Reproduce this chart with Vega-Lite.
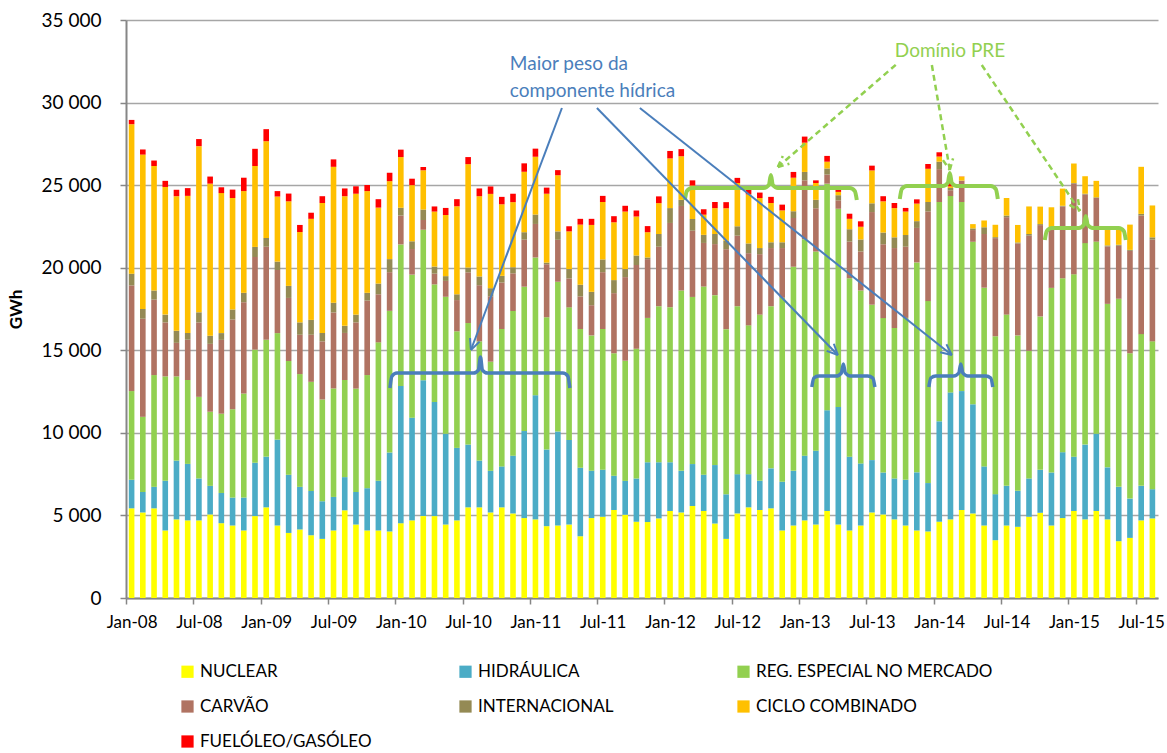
{
  "$schema": "https://vega.github.io/schema/vega-lite/v6.json",
  "width": 1032,
  "height": 578,
  "autosize": {"type": "none"},
  "padding": {"left": 126, "top": 20, "right": 9, "bottom": 155},
  "background": "white",
  "config": {
    "font": "Lato",
    "view": {"stroke": null},
    "axis": {"labelFont": "Lato", "titleFont": "Lato"},
    "legend": {"labelFont": "Lato"},
    "text": {"font": "Lato"}
  },
  "datasets": {
    "fontes": [
      {"cod": "NUC", "fonte": "NUCLEAR", "ordem": 1},
      {"cod": "HID", "fonte": "HIDRÁULICA", "ordem": 2},
      {"cod": "REG", "fonte": "REG. ESPECIAL NO MERCADO", "ordem": 3},
      {"cod": "CAR", "fonte": "CARVÃO", "ordem": 4},
      {"cod": "INT", "fonte": "INTERNACIONAL", "ordem": 5},
      {"cod": "CC", "fonte": "CICLO COMBINADO", "ordem": 6},
      {"cod": "FUEL", "fonte": "FUELÓLEO/GASÓLEO", "ordem": 7}
    ],
    "energia": [
      {"mes": "Jan-08", "NUC": 5430, "HID": 1730, "REG": 5370, "CAR": 6400, "INT": 710, "CC": 9050, "FUEL": 260},
      {"mes": "Fev-08", "NUC": 5180, "HID": 1240, "REG": 4550, "CAR": 5940, "INT": 590, "CC": 9350, "FUEL": 310},
      {"mes": "Mar-08", "NUC": 5430, "HID": 1300, "REG": 6770, "CAR": 4570, "INT": 550, "CC": 7540, "FUEL": 330},
      {"mes": "Abr-08", "NUC": 4090, "HID": 3010, "REG": 6320, "CAR": 3270, "INT": 470, "CC": 7730, "FUEL": 370},
      {"mes": "Mai-08", "NUC": 4760, "HID": 3560, "REG": 5100, "CAR": 2030, "INT": 730, "CC": 8150, "FUEL": 390},
      {"mes": "Jun-08", "NUC": 4700, "HID": 3420, "REG": 5080, "CAR": 2440, "INT": 410, "CC": 8300, "FUEL": 470},
      {"mes": "Jul-08", "NUC": 4700, "HID": 2540, "REG": 4940, "CAR": 4510, "INT": 610, "CC": 10060, "FUEL": 430},
      {"mes": "Ago-08", "NUC": 5060, "HID": 1730, "REG": 4490, "CAR": 4110, "INT": 490, "CC": 9210, "FUEL": 430},
      {"mes": "Set-08", "NUC": 4530, "HID": 1830, "REG": 4800, "CAR": 4470, "INT": 410, "CC": 8480, "FUEL": 350},
      {"mes": "Out-08", "NUC": 4390, "HID": 1690, "REG": 5350, "CAR": 5430, "INT": 610, "CC": 6750, "FUEL": 510},
      {"mes": "Nov-08", "NUC": 4090, "HID": 1990, "REG": 6300, "CAR": 5530, "INT": 570, "CC": 6160, "FUEL": 810},
      {"mes": "Dez-08", "NUC": 4960, "HID": 3230, "REG": 6850, "CAR": 5610, "INT": 610, "CC": 4900, "FUEL": 1040},
      {"mes": "Jan-09", "NUC": 5490, "HID": 3070, "REG": 7080, "CAR": 5630, "INT": 530, "CC": 5860, "FUEL": 730},
      {"mes": "Fev-09", "NUC": 4390, "HID": 5200, "REG": 6450, "CAR": 3820, "INT": 510, "CC": 3940, "FUEL": 330},
      {"mes": "Mar-09", "NUC": 3940, "HID": 3520, "REG": 6890, "CAR": 3820, "INT": 730, "CC": 5120, "FUEL": 470},
      {"mes": "Abr-09", "NUC": 4150, "HID": 2580, "REG": 6830, "CAR": 2380, "INT": 750, "CC": 5470, "FUEL": 430},
      {"mes": "Mai-09", "NUC": 3800, "HID": 2680, "REG": 6610, "CAR": 2850, "INT": 900, "CC": 6120, "FUEL": 370},
      {"mes": "Jun-09", "NUC": 3580, "HID": 2280, "REG": 6160, "CAR": 3520, "INT": 510, "CC": 7870, "FUEL": 410},
      {"mes": "Jul-09", "NUC": 4090, "HID": 2030, "REG": 6570, "CAR": 4600, "INT": 590, "CC": 8230, "FUEL": 450},
      {"mes": "Ago-09", "NUC": 5310, "HID": 2010, "REG": 5880, "CAR": 2850, "INT": 430, "CC": 7850, "FUEL": 470},
      {"mes": "Set-09", "NUC": 4450, "HID": 1970, "REG": 6260, "CAR": 4010, "INT": 470, "CC": 7320, "FUEL": 450},
      {"mes": "Out-09", "NUC": 4090, "HID": 2560, "REG": 6850, "CAR": 4510, "INT": 470, "CC": 6160, "FUEL": 370},
      {"mes": "Nov-09", "NUC": 4090, "HID": 3010, "REG": 8380, "CAR": 2910, "INT": 650, "CC": 4600, "FUEL": 510},
      {"mes": "Dez-09", "NUC": 4030, "HID": 4780, "REG": 8580, "CAR": 2340, "INT": 790, "CC": 4720, "FUEL": 510},
      {"mes": "Jan-10", "NUC": 4530, "HID": 8300, "REG": 8580, "CAR": 1750, "INT": 470, "CC": 3070, "FUEL": 450},
      {"mes": "Fev-10", "NUC": 4700, "HID": 6220, "REG": 8660, "CAR": 1550, "INT": 470, "CC": 3400, "FUEL": 390},
      {"mes": "Mar-10", "NUC": 4960, "HID": 8230, "REG": 9110, "CAR": 590, "INT": 630, "CC": 2380, "FUEL": 200},
      {"mes": "Abr-10", "NUC": 4960, "HID": 6910, "REG": 7120, "CAR": 650, "INT": 430, "CC": 3330, "FUEL": 310},
      {"mes": "Mai-10", "NUC": 4450, "HID": 5490, "REG": 8300, "CAR": 960, "INT": 290, "CC": 3700, "FUEL": 430},
      {"mes": "Jun-10", "NUC": 4700, "HID": 4390, "REG": 7060, "CAR": 1890, "INT": 350, "CC": 5330, "FUEL": 430},
      {"mes": "Jul-10", "NUC": 5490, "HID": 3800, "REG": 7360, "CAR": 3070, "INT": 290, "CC": 6260, "FUEL": 430},
      {"mes": "Ago-10", "NUC": 5490, "HID": 2830, "REG": 7220, "CAR": 3400, "INT": 530, "CC": 4860, "FUEL": 470},
      {"mes": "Set-10", "NUC": 5180, "HID": 2520, "REG": 6610, "CAR": 3960, "INT": 490, "CC": 5710, "FUEL": 450},
      {"mes": "Out-10", "NUC": 5490, "HID": 2480, "REG": 8320, "CAR": 2810, "INT": 410, "CC": 4330, "FUEL": 450},
      {"mes": "Nov-10", "NUC": 5120, "HID": 3500, "REG": 8760, "CAR": 2280, "INT": 370, "CC": 3940, "FUEL": 510},
      {"mes": "Dez-10", "NUC": 4840, "HID": 5270, "REG": 8740, "CAR": 2850, "INT": 450, "CC": 3660, "FUEL": 510},
      {"mes": "Jan-11", "NUC": 4760, "HID": 7520, "REG": 8340, "CAR": 2030, "INT": 570, "CC": 3500, "FUEL": 490},
      {"mes": "Fev-11", "NUC": 4350, "HID": 4640, "REG": 8010, "CAR": 3210, "INT": 100, "CC": 4170, "FUEL": 370},
      {"mes": "Mar-11", "NUC": 4390, "HID": 5690, "REG": 9070, "CAR": 2540, "INT": 510, "CC": 3400, "FUEL": 310},
      {"mes": "Abr-11", "NUC": 4450, "HID": 5120, "REG": 8030, "CAR": 1750, "INT": 570, "CC": 2280, "FUEL": 310},
      {"mes": "Mai-11", "NUC": 3740, "HID": 4150, "REG": 8400, "CAR": 1970, "INT": 710, "CC": 3640, "FUEL": 350},
      {"mes": "Jun-11", "NUC": 4840, "HID": 2870, "REG": 8190, "CAR": 1830, "INT": 810, "CC": 4050, "FUEL": 370},
      {"mes": "Jul-11", "NUC": 4920, "HID": 2850, "REG": 8520, "CAR": 3440, "INT": 770, "CC": 3480, "FUEL": 370},
      {"mes": "Ago-11", "NUC": 5330, "HID": 2070, "REG": 7420, "CAR": 3640, "INT": 790, "CC": 3500, "FUEL": 370},
      {"mes": "Set-11", "NUC": 5040, "HID": 2050, "REG": 7280, "CAR": 5060, "INT": 490, "CC": 3480, "FUEL": 350},
      {"mes": "Out-11", "NUC": 4620, "HID": 2620, "REG": 7850, "CAR": 5080, "INT": 570, "CC": 2360, "FUEL": 370},
      {"mes": "Nov-11", "NUC": 4600, "HID": 3620, "REG": 8740, "CAR": 3560, "INT": 100, "CC": 1530, "FUEL": 370},
      {"mes": "Dez-11", "NUC": 4820, "HID": 3400, "REG": 9450, "CAR": 3600, "INT": 770, "CC": 1870, "FUEL": 410},
      {"mes": "Jan-12", "NUC": 5270, "HID": 2950, "REG": 9390, "CAR": 5100, "INT": 900, "CC": 3010, "FUEL": 450},
      {"mes": "Fev-12", "NUC": 5180, "HID": 2520, "REG": 10920, "CAR": 5120, "INT": 370, "CC": 2640, "FUEL": 430},
      {"mes": "Mar-12", "NUC": 5570, "HID": 2540, "REG": 10120, "CAR": 4010, "INT": 710, "CC": 2030, "FUEL": 310},
      {"mes": "Abr-12", "NUC": 5270, "HID": 2200, "REG": 11390, "CAR": 2640, "INT": 490, "CC": 1220, "FUEL": 330},
      {"mes": "Mai-12", "NUC": 4510, "HID": 3540, "REG": 10290, "CAR": 3090, "INT": 610, "CC": 1570, "FUEL": 370},
      {"mes": "Jun-12", "NUC": 3580, "HID": 2700, "REG": 10000, "CAR": 4840, "INT": 510, "CC": 1970, "FUEL": 370},
      {"mes": "Jul-12", "NUC": 5120, "HID": 2380, "REG": 10170, "CAR": 4270, "INT": 570, "CC": 2620, "FUEL": 310},
      {"mes": "Ago-12", "NUC": 5490, "HID": 2010, "REG": 9010, "CAR": 4370, "INT": 590, "CC": 2970, "FUEL": 310},
      {"mes": "Set-12", "NUC": 5330, "HID": 1770, "REG": 10060, "CAR": 3660, "INT": 370, "CC": 3030, "FUEL": 330},
      {"mes": "Out-12", "NUC": 5430, "HID": 2420, "REG": 9820, "CAR": 3520, "INT": 350, "CC": 2380, "FUEL": 370},
      {"mes": "Nov-12", "NUC": 4090, "HID": 2950, "REG": 11140, "CAR": 3010, "INT": 350, "CC": 1930, "FUEL": 350},
      {"mes": "Dez-12", "NUC": 4390, "HID": 3310, "REG": 12360, "CAR": 2950, "INT": 410, "CC": 2030, "FUEL": 350},
      {"mes": "Jan-13", "NUC": 4700, "HID": 3920, "REG": 13110, "CAR": 3560, "INT": 510, "CC": 1770, "FUEL": 370},
      {"mes": "Fev-13", "NUC": 4450, "HID": 4470, "REG": 12060, "CAR": 2620, "INT": 510, "CC": 1020, "FUEL": 160},
      {"mes": "Mar-13", "NUC": 5270, "HID": 6100, "REG": 13720, "CAR": 550, "INT": 370, "CC": 410, "FUEL": 350},
      {"mes": "Abr-13", "NUC": 4450, "HID": 7120, "REG": 12000, "CAR": 510, "INT": 310, "CC": 200, "FUEL": 240},
      {"mes": "Mai-13", "NUC": 4090, "HID": 4470, "REG": 10800, "CAR": 2220, "INT": 750, "CC": 630, "FUEL": 310},
      {"mes": "Jun-13", "NUC": 4390, "HID": 3760, "REG": 10470, "CAR": 2360, "INT": 730, "CC": 770, "FUEL": 330},
      {"mes": "Jul-13", "NUC": 5180, "HID": 3170, "REG": 9410, "CAR": 5610, "INT": 530, "CC": 1990, "FUEL": 290},
      {"mes": "Ago-13", "NUC": 5060, "HID": 2540, "REG": 9350, "CAR": 4470, "INT": 710, "CC": 1890, "FUEL": 310},
      {"mes": "Set-13", "NUC": 4760, "HID": 2480, "REG": 9110, "CAR": 4840, "INT": 650, "CC": 1770, "FUEL": 310},
      {"mes": "Out-13", "NUC": 4390, "HID": 2770, "REG": 9800, "CAR": 4310, "INT": 710, "CC": 1420, "FUEL": 220},
      {"mes": "Nov-13", "NUC": 4090, "HID": 3520, "REG": 12710, "CAR": 2090, "INT": 410, "CC": 1060, "FUEL": 260},
      {"mes": "Dez-13", "NUC": 4030, "HID": 2930, "REG": 11020, "CAR": 5430, "INT": 570, "CC": 2010, "FUEL": 290},
      {"mes": "Jan-14", "NUC": 4620, "HID": 6080, "REG": 13280, "CAR": 1990, "INT": 450, "CC": 310, "FUEL": 260},
      {"mes": "Fev-14", "NUC": 4760, "HID": 7690, "REG": 11890, "CAR": 350, "INT": 140, "CC": 100, "FUEL": 200},
      {"mes": "Mar-14", "NUC": 5330, "HID": 7200, "REG": 11450, "CAR": 1280, "INT": 20, "CC": 240, "FUEL": 10},
      {"mes": "Abr-14", "NUC": 5120, "HID": 6610, "REG": 9840, "CAR": 710, "INT": 100, "CC": 260, "FUEL": 0},
      {"mes": "Mai-14", "NUC": 4390, "HID": 3580, "REG": 10820, "CAR": 3250, "INT": 410, "CC": 410, "FUEL": 0},
      {"mes": "Jun-14", "NUC": 3500, "HID": 2790, "REG": 9560, "CAR": 5940, "INT": 60, "CC": 750, "FUEL": 0},
      {"mes": "Jul-14", "NUC": 4390, "HID": 2400, "REG": 10370, "CAR": 5900, "INT": 100, "CC": 1060, "FUEL": 0},
      {"mes": "Ago-14", "NUC": 4310, "HID": 2180, "REG": 9410, "CAR": 5570, "INT": 60, "CC": 1060, "FUEL": 0},
      {"mes": "Set-14", "NUC": 4920, "HID": 2320, "REG": 7730, "CAR": 6970, "INT": 100, "CC": 1670, "FUEL": 0},
      {"mes": "Out-14", "NUC": 5160, "HID": 2600, "REG": 9290, "CAR": 5530, "INT": 60, "CC": 1060, "FUEL": 0},
      {"mes": "Nov-14", "NUC": 4390, "HID": 3210, "REG": 11180, "CAR": 3560, "INT": 60, "CC": 1260, "FUEL": 0},
      {"mes": "Dez-14", "NUC": 4840, "HID": 3990, "REG": 10530, "CAR": 4350, "INT": 40, "CC": 1040, "FUEL": 0},
      {"mes": "Jan-15", "NUC": 5270, "HID": 3290, "REG": 11040, "CAR": 5490, "INT": 40, "CC": 1180, "FUEL": 0},
      {"mes": "Fev-15", "NUC": 4760, "HID": 4530, "REG": 12200, "CAR": 2950, "INT": 40, "CC": 1060, "FUEL": 0},
      {"mes": "Mar-15", "NUC": 5270, "HID": 4680, "REG": 11630, "CAR": 2640, "INT": 40, "CC": 1000, "FUEL": 0},
      {"mes": "Abr-15", "NUC": 4760, "HID": 3150, "REG": 9900, "CAR": 3480, "INT": 60, "CC": 1000, "FUEL": 0},
      {"mes": "Mai-15", "NUC": 3440, "HID": 3290, "REG": 11390, "CAR": 3210, "INT": 60, "CC": 960, "FUEL": 0},
      {"mes": "Jun-15", "NUC": 3640, "HID": 2380, "REG": 8800, "CAR": 6200, "INT": 60, "CC": 1530, "FUEL": 0},
      {"mes": "Jul-15", "NUC": 4700, "HID": 2090, "REG": 9190, "CAR": 7180, "INT": 100, "CC": 2850, "FUEL": 0},
      {"mes": "Ago-15", "NUC": 4820, "HID": 1770, "REG": 8950, "CAR": 6160, "INT": 140, "CC": 1930, "FUEL": 0}
    ],
    "chaves_azuis": [
      {"id": "b1", "pos": 23.53, "GWh": 12716}, {"id": "b1", "pos": 23.71, "GWh": 13442}, {"id": "b1", "pos": 24.15, "GWh": 13624},
      {"id": "b1", "pos": 30.97, "GWh": 13624}, {"id": "b1", "pos": 31.42, "GWh": 13805}, {"id": "b1", "pos": 31.6, "GWh": 14593},
      {"id": "b1", "pos": 31.77, "GWh": 13805}, {"id": "b1", "pos": 32.22, "GWh": 13624}, {"id": "b1", "pos": 38.95, "GWh": 13624},
      {"id": "b1", "pos": 39.39, "GWh": 13442}, {"id": "b1", "pos": 39.57, "GWh": 12716},
      {"id": "b2", "pos": 61.14, "GWh": 12776}, {"id": "b2", "pos": 61.32, "GWh": 13321}, {"id": "b2", "pos": 61.76, "GWh": 13442},
      {"id": "b2", "pos": 63.32, "GWh": 13442}, {"id": "b2", "pos": 63.77, "GWh": 13624}, {"id": "b2", "pos": 63.95, "GWh": 14169},
      {"id": "b2", "pos": 64.13, "GWh": 13624}, {"id": "b2", "pos": 64.57, "GWh": 13442}, {"id": "b2", "pos": 66.13, "GWh": 13442},
      {"id": "b2", "pos": 66.58, "GWh": 13321}, {"id": "b2", "pos": 66.76, "GWh": 12776},
      {"id": "b3", "pos": 71.57, "GWh": 12776}, {"id": "b3", "pos": 71.75, "GWh": 13321}, {"id": "b3", "pos": 72.19, "GWh": 13442},
      {"id": "b3", "pos": 73.8, "GWh": 13442}, {"id": "b3", "pos": 74.24, "GWh": 13624}, {"id": "b3", "pos": 74.42, "GWh": 14169},
      {"id": "b3", "pos": 74.6, "GWh": 13624}, {"id": "b3", "pos": 75.04, "GWh": 13442}, {"id": "b3", "pos": 76.65, "GWh": 13442},
      {"id": "b3", "pos": 77.09, "GWh": 13321}, {"id": "b3", "pos": 77.27, "GWh": 12776}
    ],
    "chaves_verdes": [
      {"id": "g1", "pos": 49.82, "GWh": 24099}, {"id": "g1", "pos": 50.0, "GWh": 24644}, {"id": "g1", "pos": 50.45, "GWh": 24826},
      {"id": "g1", "pos": 56.86, "GWh": 24826}, {"id": "g1", "pos": 57.31, "GWh": 25007}, {"id": "g1", "pos": 57.49, "GWh": 25613},
      {"id": "g1", "pos": 57.66, "GWh": 25007}, {"id": "g1", "pos": 58.11, "GWh": 24826}, {"id": "g1", "pos": 64.53, "GWh": 24826},
      {"id": "g1", "pos": 64.97, "GWh": 24644}, {"id": "g1", "pos": 65.15, "GWh": 24099},
      {"id": "g2", "pos": 68.98, "GWh": 24159}, {"id": "g2", "pos": 69.16, "GWh": 24765}, {"id": "g2", "pos": 69.61, "GWh": 24947},
      {"id": "g2", "pos": 72.82, "GWh": 24947}, {"id": "g2", "pos": 73.26, "GWh": 25128}, {"id": "g2", "pos": 73.44, "GWh": 25734},
      {"id": "g2", "pos": 73.62, "GWh": 25128}, {"id": "g2", "pos": 74.06, "GWh": 24947}, {"id": "g2", "pos": 77.09, "GWh": 24947},
      {"id": "g2", "pos": 77.54, "GWh": 24765}, {"id": "g2", "pos": 77.72, "GWh": 24159},
      {"id": "g3", "pos": 81.91, "GWh": 21677}, {"id": "g3", "pos": 82.09, "GWh": 22222}, {"id": "g3", "pos": 82.53, "GWh": 22404},
      {"id": "g3", "pos": 84.94, "GWh": 22404}, {"id": "g3", "pos": 85.38, "GWh": 22585}, {"id": "g3", "pos": 85.56, "GWh": 23130},
      {"id": "g3", "pos": 85.74, "GWh": 22585}, {"id": "g3", "pos": 86.19, "GWh": 22404}, {"id": "g3", "pos": 88.5, "GWh": 22404},
      {"id": "g3", "pos": 88.95, "GWh": 22222}, {"id": "g3", "pos": 89.13, "GWh": 21677}
    ],
    "setas_azuis": [
      {"id": "s1", "pos": 38.86, "GWh": 29670}, {"id": "s1", "pos": 30.75, "GWh": 15016},
      {"id": "s1a", "pos": 30.75, "GWh": 15016}, {"id": "s1a", "pos": 31.52, "GWh": 15525},
      {"id": "s1b", "pos": 30.75, "GWh": 15016}, {"id": "s1b", "pos": 30.67, "GWh": 15743},
      {"id": "s2", "pos": 41.98, "GWh": 29670}, {"id": "s2", "pos": 63.46, "GWh": 14714},
      {"id": "s2a", "pos": 63.46, "GWh": 14714}, {"id": "s2a", "pos": 63.1, "GWh": 15398},
      {"id": "s2b", "pos": 63.46, "GWh": 14714}, {"id": "s2b", "pos": 62.46, "GWh": 14968},
      {"id": "s3", "pos": 45.81, "GWh": 29670}, {"id": "s3", "pos": 73.62, "GWh": 14714},
      {"id": "s3a", "pos": 73.62, "GWh": 14714}, {"id": "s3a", "pos": 73.14, "GWh": 15362},
      {"id": "s3b", "pos": 73.62, "GWh": 14714}, {"id": "s3b", "pos": 72.58, "GWh": 14883}
    ],
    "setas_verdes": [
      {"id": "v1", "pos": 68.81, "GWh": 32394}, {"id": "v1", "pos": 58.11, "GWh": 26097},
      {"id": "v1a", "pos": 58.11, "GWh": 26097}, {"id": "v1a", "pos": 59.14, "GWh": 26297},
      {"id": "v1b", "pos": 58.11, "GWh": 26097}, {"id": "v1b", "pos": 58.55, "GWh": 26763},
      {"id": "v2", "pos": 71.84, "GWh": 32273}, {"id": "v2", "pos": 73.44, "GWh": 25915},
      {"id": "v2a", "pos": 73.44, "GWh": 25915}, {"id": "v2a", "pos": 73.73, "GWh": 26618},
      {"id": "v2b", "pos": 73.44, "GWh": 25915}, {"id": "v2b", "pos": 72.83, "GWh": 26515},
      {"id": "v3", "pos": 76.29, "GWh": 32273}, {"id": "v3", "pos": 85.03, "GWh": 23433},
      {"id": "v3a", "pos": 85.03, "GWh": 23433}, {"id": "v3a", "pos": 84.87, "GWh": 24153},
      {"id": "v3b", "pos": 85.03, "GWh": 23433}, {"id": "v3b", "pos": 84.11, "GWh": 23808}
    ],
    "texto_azul": [
      {"txt": "Maior peso da", "pos": 34.22, "GWh": 31970},
      {"txt": "componente hídrica", "pos": 34.22, "GWh": 30336}
    ],
    "texto_verde": [
      {"txt": "Domínio PRE", "pos": 68.54, "GWh": 32758}
    ]
  },
  "layer": [
    {
      "data": {"name": "energia"},
      "transform": [
        {"fold": ["NUC", "HID", "REG", "CAR", "INT", "CC", "FUEL"], "as": ["cod", "GWh"]},
        {"lookup": "cod", "from": {"data": {"name": "fontes"}, "key": "cod", "fields": ["fonte", "ordem"]}}
      ],
      "mark": {"type": "bar"},
      "encoding": {
        "x": {
          "field": "mes", "type": "ordinal", "sort": null,
          "scale": {"paddingInner": 0.5, "paddingOuter": 0.25},
          "axis": {
            "values": ["Jan-08", "Jul-08", "Jan-09", "Jul-09", "Jan-10", "Jul-10", "Jan-11", "Jul-11", "Jan-12", "Jul-12", "Jan-13", "Jul-13", "Jan-14", "Jul-14", "Jan-15", "Jul-15"],
            "title": null, "labelAngle": 0, "tickOffset": -5.61, "labelOffset": 5.61,
            "labelFontSize": 17, "labelPadding": 10, "labelColor": "#000000",
            "tickSize": 6, "tickColor": "#868686", "tickWidth": 1.5,
            "domainColor": "#868686", "domainWidth": 2, "grid": false
          }
        },
        "y": {
          "field": "GWh", "type": "quantitative", "stack": "zero",
          "scale": {"domain": [0, 35000], "nice": false},
          "axis": {
            "values": [0, 5000, 10000, 15000, 20000, 25000, 30000, 35000],
            "labelExpr": "replace(format(datum.value, ','), ',', ' ')",
            "title": "GWh", "titleFontWeight": "bold", "titleFontSize": 17, "titlePadding": 16, "titleColor": "#000000",
            "labelFontSize": 19, "labelPadding": 19, "labelColor": "#000000",
            "tickSize": 6, "tickColor": "#868686", "tickWidth": 1.5,
            "domainColor": "#868686", "domainWidth": 2,
            "grid": true, "gridColor": "#a6a6a6", "gridWidth": 1.5
          }
        },
        "color": {
          "field": "fonte", "type": "nominal",
          "scale": {
            "domain": ["NUCLEAR", "HIDRÁULICA", "REG. ESPECIAL NO MERCADO", "CARVÃO", "INTERNACIONAL", "CICLO COMBINADO", "FUELÓLEO/GASÓLEO"],
            "range": ["#FFFF00", "#4BACC6", "#92D050", "#B07362", "#948A54", "#FFC000", "#FF0000"]
          },
          "legend": {
            "orient": "none", "legendX": 53, "legendY": 643, "direction": "horizontal", "columns": 3,
            "title": null, "symbolType": "square", "symbolSize": 150, "symbolStrokeWidth": 0,
            "labelFontSize": 17, "labelColor": "#000000", "labelOffset": 4,
            "columnPadding": 20, "rowPadding": 17, "gridAlign": "all", "labelLimit": 400
          }
        },
        "order": {"field": "ordem", "type": "quantitative"}
      }
    },
    {
      "data": {"name": "chaves_azuis"},
      "mark": {"type": "line", "interpolate": "monotone", "color": "#4A7EBB", "strokeWidth": 3.5},
      "encoding": {
        "x": {"field": "pos", "type": "quantitative", "scale": {"domain": [0, 92], "nice": false, "zero": false}, "axis": null},
        "y": {"field": "GWh", "type": "quantitative"},
        "detail": {"field": "id"}
      }
    },
    {
      "data": {"name": "chaves_verdes"},
      "mark": {"type": "line", "interpolate": "monotone", "color": "#92D050", "strokeWidth": 4},
      "encoding": {
        "x": {"field": "pos", "type": "quantitative", "scale": {"domain": [0, 92], "nice": false, "zero": false}, "axis": null},
        "y": {"field": "GWh", "type": "quantitative"},
        "detail": {"field": "id"}
      }
    },
    {
      "data": {"name": "setas_azuis"},
      "mark": {"type": "line", "color": "#4A7EBB", "strokeWidth": 2},
      "encoding": {
        "x": {"field": "pos", "type": "quantitative", "scale": {"domain": [0, 92], "nice": false, "zero": false}, "axis": null},
        "y": {"field": "GWh", "type": "quantitative"},
        "detail": {"field": "id"}
      }
    },
    {
      "data": {"name": "setas_verdes"},
      "mark": {"type": "line", "color": "#92D050", "strokeWidth": 2.5, "strokeDash": [6, 4]},
      "encoding": {
        "x": {"field": "pos", "type": "quantitative", "scale": {"domain": [0, 92], "nice": false, "zero": false}, "axis": null},
        "y": {"field": "GWh", "type": "quantitative"},
        "detail": {"field": "id"}
      }
    },
    {
      "data": {"name": "texto_azul"},
      "mark": {"type": "text", "align": "left", "baseline": "alphabetic", "fontSize": 19, "color": "#4A7EBB"},
      "encoding": {
        "x": {"field": "pos", "type": "quantitative", "scale": {"domain": [0, 92], "nice": false, "zero": false}, "axis": null},
        "y": {"field": "GWh", "type": "quantitative"},
        "text": {"field": "txt"}
      }
    },
    {
      "data": {"name": "texto_verde"},
      "mark": {"type": "text", "align": "left", "baseline": "alphabetic", "fontSize": 19, "color": "#92D050"},
      "encoding": {
        "x": {"field": "pos", "type": "quantitative", "scale": {"domain": [0, 92], "nice": false, "zero": false}, "axis": null},
        "y": {"field": "GWh", "type": "quantitative"},
        "text": {"field": "txt"}
      }
    }
  ],
  "resolve": {"scale": {"x": "independent"}}
}
